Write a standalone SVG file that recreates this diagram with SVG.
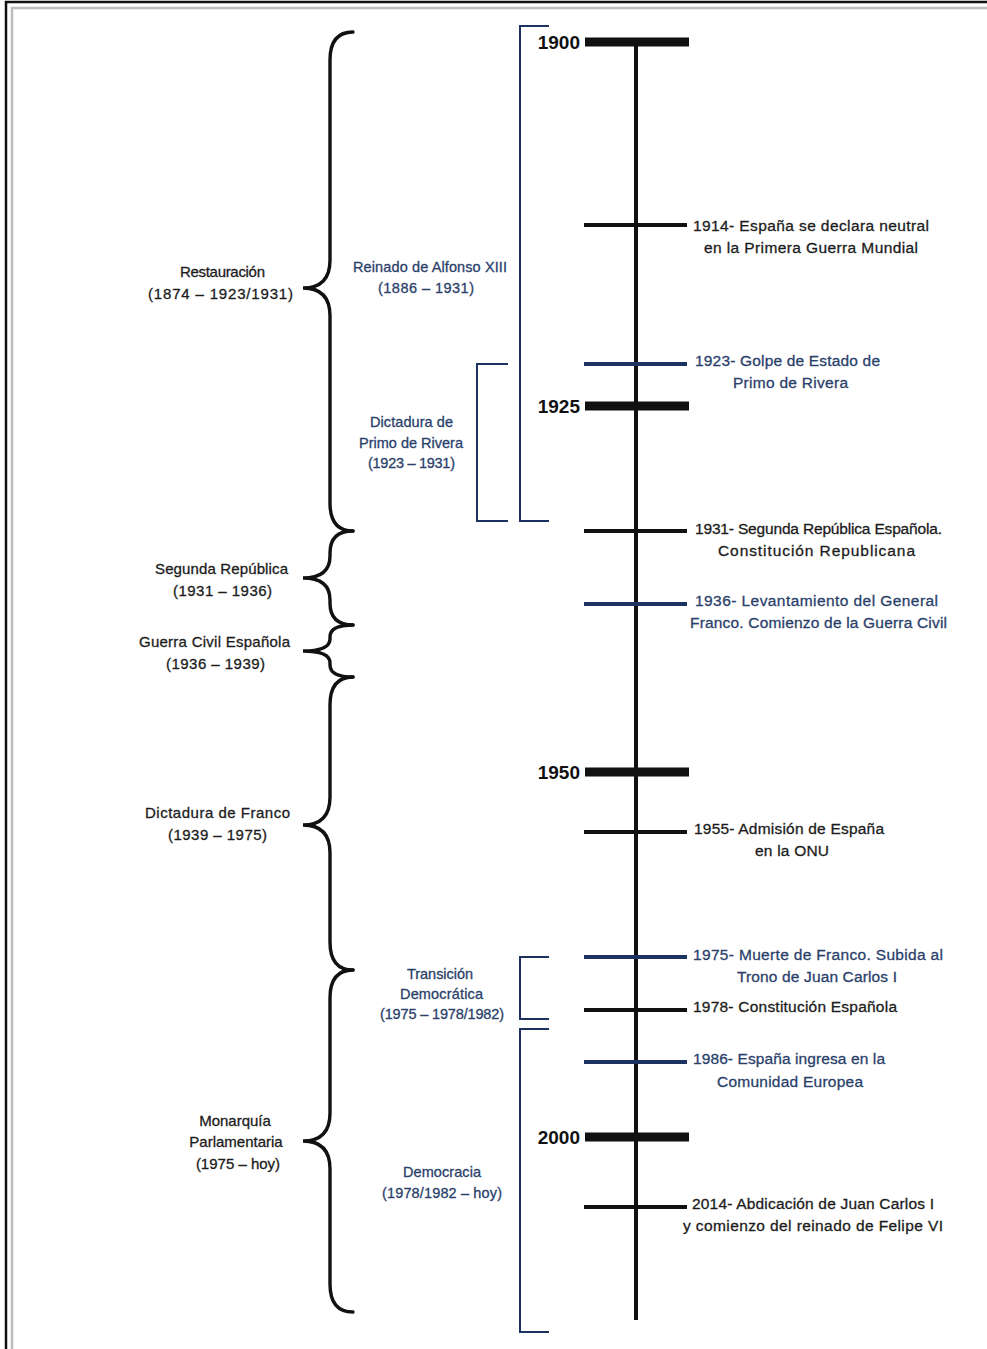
<svg xmlns="http://www.w3.org/2000/svg" width="987" height="1349" viewBox="0 0 987 1349">
  <style>
    text { font-family: "Liberation Sans", Arial, sans-serif; stroke-width: 0.3; }
    .lbl { font-size: 15px; fill: #1c1c1c; stroke: #1c1c1c; text-anchor: middle; }
    .ev { font-size: 15.5px; fill: #1c1c1c; stroke: #1c1c1c; text-anchor: middle; }
    .ev.navy { fill: #2b3f6b; stroke: #2b3f6b; }
    .sub { font-size: 14.5px; fill: #2b3f6b; stroke: #2b3f6b; text-anchor: middle; }
    .year { font-size: 19px; font-weight: bold; fill: #111; text-anchor: end; stroke: none; }
    .brace { fill: none; stroke: #111; stroke-width: 3.4; stroke-linecap: round; }
    .bracket { fill: none; stroke: #1c3260; stroke-width: 2; }
    .axis { stroke: #111; stroke-width: 4; }
    .major { stroke: #111; stroke-width: 9; }
    .minor { stroke: #111; stroke-width: 4; }
    .minor.navy { stroke: #1c3260; }
  </style>

  <rect x="0" y="0" width="987" height="1349" fill="#ffffff"/>

  <!-- double frame, open on the right and bottom -->
  <g id="frame" fill="none">
    <path d="M6 1349 V2 H987" stroke="#111" stroke-width="2.5"/>
    <path d="M12 1349 V8 H987" stroke="#bdbdbd" stroke-width="2.5"/>
  </g>

  <!-- timeline axis and decade markers -->
  <g id="connectors">
    <line class="axis" x1="636" y1="40" x2="636" y2="1320"/>
    <line class="major" x1="585" y1="42" x2="689" y2="42"/>
    <line class="major" x1="585" y1="406" x2="689" y2="406"/>
    <line class="major" x1="585" y1="772" x2="689" y2="772"/>
    <line class="major" x1="585" y1="1137" x2="689" y2="1137"/>
    <line class="minor" x1="584" y1="225" x2="687" y2="225"/>
    <line class="minor navy" x1="584" y1="364" x2="687" y2="364"/>
    <line class="minor" x1="584" y1="531" x2="687" y2="531"/>
    <line class="minor navy" x1="584" y1="604" x2="687" y2="604"/>
    <line class="minor" x1="584" y1="832" x2="687" y2="832"/>
    <line class="minor navy" x1="584" y1="957" x2="687" y2="957"/>
    <line class="minor" x1="584" y1="1010" x2="687" y2="1010"/>
    <line class="minor navy" x1="584" y1="1062" x2="687" y2="1062"/>
    <line class="minor" x1="584" y1="1207" x2="687" y2="1207"/>
  </g>

  <!-- decade labels -->
  <g id="years">
    <text class="year" x="580" y="48.5">1900</text>
    <text class="year" x="580" y="413">1925</text>
    <text class="year" x="580" y="778.5">1950</text>
    <text class="year" x="580" y="1143.5">2000</text>
  </g>

  <!-- events -->
  <g id="ev-1914">
    <text class="ev" x="811" y="231" textLength="236">1914- España se declara neutral</text>
    <text class="ev" x="811" y="253" textLength="214">en la Primera Guerra Mundial</text>
  </g>
  <g id="ev-1923">
    <text class="ev navy" x="787.5" y="366" textLength="185">1923- Golpe de Estado de</text>
    <text class="ev navy" x="790.5" y="388" textLength="115">Primo de Rivera</text>
  </g>
  <g id="ev-1931">
    <text class="ev" x="818.5" y="534" textLength="247">1931- Segunda República Española.</text>
    <text class="ev" x="816.5" y="556" textLength="197">Constitución Republicana</text>
  </g>
  <g id="ev-1936">
    <text class="ev navy" x="816.5" y="606" textLength="243">1936- Levantamiento del General</text>
    <text class="ev navy" x="818.5" y="628" textLength="257">Franco. Comienzo de la Guerra Civil</text>
  </g>
  <g id="ev-1955">
    <text class="ev" x="789" y="834" textLength="190">1955- Admisión de España</text>
    <text class="ev" x="792" y="856" textLength="74">en la ONU</text>
  </g>
  <g id="ev-1975">
    <text class="ev navy" x="818" y="960" textLength="250">1975- Muerte de Franco. Subida al</text>
    <text class="ev navy" x="817" y="982" textLength="160">Trono de Juan Carlos I</text>
  </g>
  <g id="ev-1978">
    <text class="ev" x="795" y="1012" textLength="204">1978- Constitución Española</text>
  </g>
  <g id="ev-1986">
    <text class="ev navy" x="789" y="1064" textLength="192">1986- España ingresa en la</text>
    <text class="ev navy" x="790" y="1087" textLength="146">Comunidad Europea</text>
  </g>
  <g id="ev-2014">
    <text class="ev" x="813" y="1209" textLength="242">2014- Abdicación de Juan Carlos I</text>
    <text class="ev" x="813" y="1231" textLength="260">y comienzo del reinado de Felipe VI</text>
  </g>

  <!-- sub-periods (square brackets) -->
  <g id="alfonso-xiii">
    <path class="bracket" d="M549 26 H520 V521 H549"/>
    <text class="sub" x="430" y="272" textLength="154">Reinado de Alfonso XIII</text>
    <text class="sub" x="426" y="293" textLength="96">(1886 – 1931)</text>
  </g>
  <g id="primo-de-rivera">
    <path class="bracket" d="M508 364 H477 V521 H508"/>
    <text class="sub" x="411.5" y="427" textLength="83">Dictadura de</text>
    <text class="sub" x="411" y="448" textLength="104">Primo de Rivera</text>
    <text class="sub" x="411.5" y="468" textLength="87">(1923 – 1931)</text>
  </g>
  <g id="transicion">
    <path class="bracket" d="M549 957 H520 V1019 H549"/>
    <text class="sub" x="440" y="979" textLength="66">Transición</text>
    <text class="sub" x="441.5" y="999" textLength="83">Democrática</text>
    <text class="sub" x="442" y="1019" textLength="124">(1975 – 1978/1982)</text>
  </g>
  <g id="democracia">
    <path class="bracket" d="M549 1029 H520 V1332 H549"/>
    <text class="sub" x="442" y="1177" textLength="78">Democracia</text>
    <text class="sub" x="442" y="1198" textLength="120">(1978/1982 – hoy)</text>
  </g>

  <!-- main periods (curly braces) -->
  <g id="restauracion">
    <path class="brace" d="M353 32 Q330 32 330 60 L330 260 Q330 288 303 288 Q330 288 330 316 L330 503 Q330 531 353 531"/>
    <text class="lbl" x="222.5" y="277" textLength="85">Restauración</text>
    <text class="lbl" x="220.5" y="299" textLength="145">(1874 – 1923/1931)</text>
  </g>
  <g id="segunda-republica">
    <path class="brace" d="M353 531 Q330 531 330 553 L330 556 Q330 578 303 578 Q330 578 330 600 L330 603 Q330 625 353 625"/>
    <text class="lbl" x="221.5" y="574" textLength="133">Segunda República</text>
    <text class="lbl" x="222.5" y="596" textLength="99">(1931 – 1936)</text>
  </g>
  <g id="guerra-civil">
    <path class="brace" d="M353 625 Q330 625 330 637 L330 639 Q330 651 303 651 Q330 651 330 663 L330 665 Q330 677 353 677"/>
    <text class="lbl" x="214.5" y="647" textLength="151">Guerra Civil Española</text>
    <text class="lbl" x="215.5" y="669" textLength="99">(1936 – 1939)</text>
  </g>
  <g id="franco">
    <path class="brace" d="M353 677 Q330 677 330 705 L330 797 Q330 825 303 825 Q330 825 330 853 L330 942 Q330 970 353 970"/>
    <text class="lbl" x="217.5" y="818" textLength="145">Dictadura de Franco</text>
    <text class="lbl" x="217.5" y="840" textLength="99">(1939 – 1975)</text>
  </g>
  <g id="monarquia">
    <path class="brace" d="M353 970 Q330 970 330 998 L330 1113 Q330 1141 303 1141 Q330 1141 330 1169 L330 1284 Q330 1312 353 1312"/>
    <text class="lbl" x="235" y="1126">Monarquía</text>
    <text class="lbl" x="236" y="1147">Parlamentaria</text>
    <text class="lbl" x="238" y="1169">(1975 – hoy)</text>
  </g>
</svg>
